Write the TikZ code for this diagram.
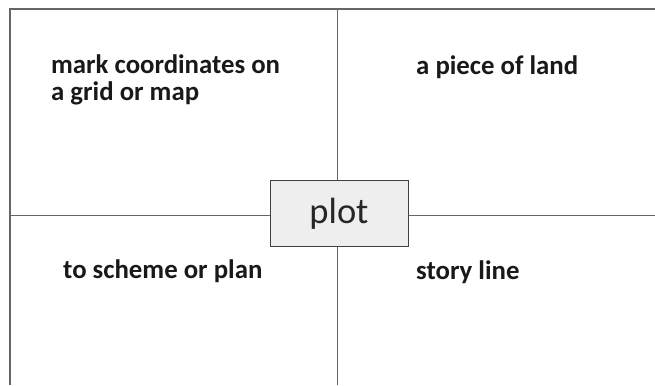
\documentclass[tikz,border=0pt]{standalone}
\usepackage{fontspec}
\setmainfont{Carlito}
\begin{document}
\begin{tikzpicture}[x=1pt,y=-1pt,
  gridline/.style={draw=gray!80!black,line width=1.6pt},
  quadtext/.style={anchor=base west,inner sep=0pt,font=\bfseries\fontsize{26.8}{27}\selectfont,text=black!90,align=left},
  centerbox/.style={draw=black!75,fill=gray!13,line width=1pt,minimum width=138pt,minimum height=66pt,inner sep=0pt,text height=30pt,text depth=10pt,font=\fontsize{36.5}{40}\selectfont,text=black!85}]
\useasboundingbox (0,0) rectangle (655,385);
\coordinate (tl) at (10,9);
\coordinate (tr) at (655,9);
\coordinate (bl) at (10,385);
\coordinate (vt) at (337.5,9);
\coordinate (vb) at (337.5,385);
\coordinate (hl) at (10,215.5);
\coordinate (hr) at (655,215.5);
\draw[gridline] (tr) -- (tl) -- (bl);
\draw[gridline] (vt) -- (vb);
\draw[gridline] (hl) -- (hr);
\node[centerbox] (plot) at (339,213) {plot};
\node[quadtext] (q1) at (51,100) {mark coordinates on\\a grid or map};
\node[quadtext] (q2) at (416,75) {a piece of land};
\node[quadtext] (q3) at (63,278) {to scheme or plan};
\node[quadtext] (q4) at (416,279) {story line};
\end{tikzpicture}
\end{document}
